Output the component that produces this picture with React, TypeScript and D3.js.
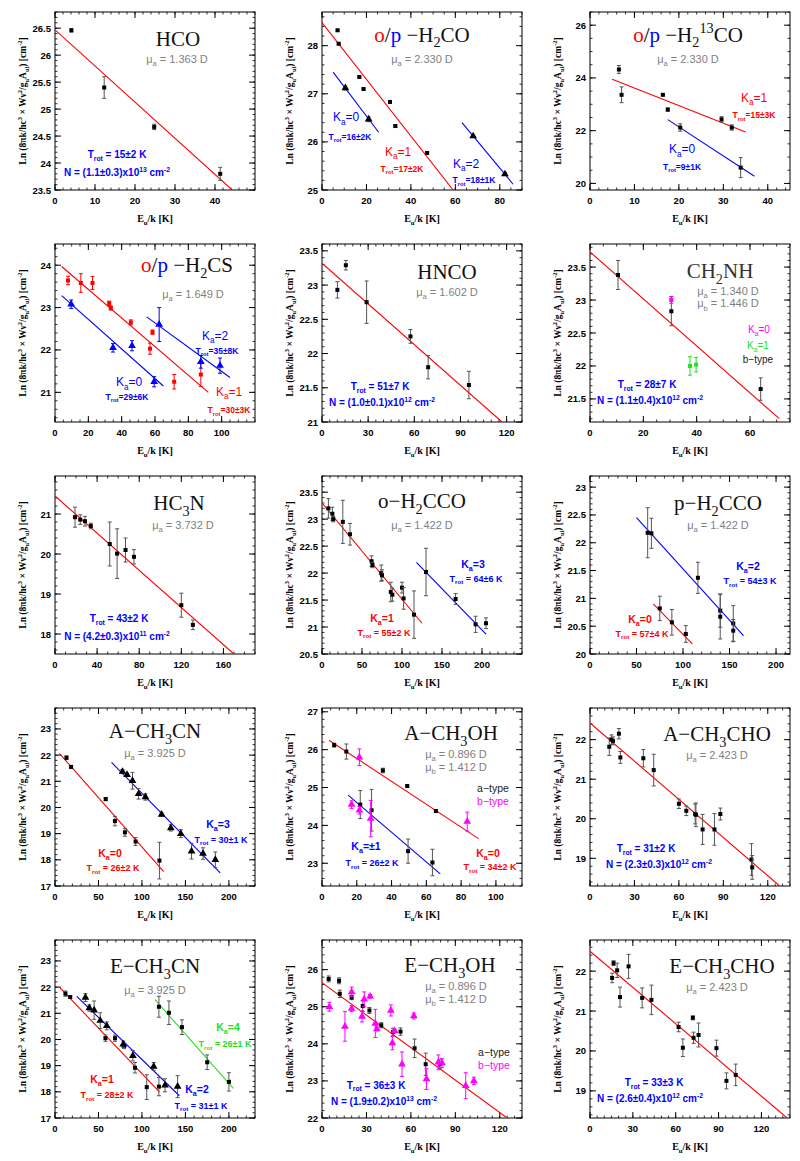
import React from 'react';
import * as d3 from 'd3';

type Pt = [number, number, number];
type Seg = [string, string];

const R = '#ff0000', B = '#0000ff', G = '#22e022', M = '#ff00ff', K = '#000000', GR = '#808080', EB = '#555555';

// ---------- data ----------
// HCO
const hcoPts: Pt[] = [[4.1, 26.46, 0.03], [12.3, 25.40, 0.2], [24.8, 24.67, 0.05], [41.3, 23.80, 0.12]];
const hcoFit = [[0, 26.47], [44.3, 23.5]];
const hcoX = [0, 10, 20, 30, 40];
const hcoY = [23.5, 24, 24.5, 25, 25.5, 26, 26.5];
// H2CO
const h2coO: Pt[] = [[7.0, 28.32, 0.02], [7.5, 28.04, 0.02], [16.8, 27.35, 0.02], [18.7, 27.10, 0.02], [30.6, 26.83, 0.02], [33.0, 26.33, 0.02], [47.3, 25.77, 0.02]];
const h2coP0: Pt[] = [[10.5, 27.12, 0.04], [21.0, 26.47, 0.05]];
const h2coP2: Pt[] = [[68.0, 26.12, 0.03], [82.3, 25.33, 0.03]];
const h2coFitO = [[0, 28.48], [59, 25]];
const h2coFitP0 = [[5, 27.45], [25.5, 26.2]];
const h2coFitP2 = [[63, 26.4], [86, 25.12]];
const h2coX = [0, 20, 40, 60, 80];
const h2coY = [25, 26, 27, 28];
// H2 13CO
const h213coPts: Pt[] = [[6.5, 24.32, 0.15], [7.1, 23.36, 0.3], [16.4, 23.36, 0.03], [17.5, 22.80, 0.06], [20.3, 22.12, 0.14], [29.6, 22.43, 0.1], [31.9, 22.12, 0.1], [33.9, 20.6, 0.38]];
const h213coFit1 = [[5, 23.95], [35, 21.95]];
const h213coFit0 = [[17.5, 22.42], [37, 20.27]];
const h213coX = [0, 10, 20, 30, 40];
const h213coY = [20, 22, 24, 26];
// H2CS
const h2csO: Pt[] = [[7.8, 23.64, 0.1], [15.5, 23.58, 0.22], [22.5, 23.58, 0.15], [32.5, 23.1, 0.05], [33.5, 22.99, 0.05], [45.5, 22.65, 0.06], [58.5, 22.42, 0.05], [57, 22.03, 0.13], [71.5, 21.25, 0.17], [87.5, 21.42, 0.28]];
const h2csP0: Pt[] = [[9.7, 23.08, 0.1], [34.8, 22.05, 0.1], [46.2, 22.1, 0.12], [59.5, 21.25, 0.12]];
const h2csP2: Pt[] = [[62.5, 22.6, 0.4], [87.5, 21.72, 0.15], [99, 21.63, 0.18]];
const h2csFitO = [[4, 23.97], [92, 21.0]];
const h2csFitP0 = [[4, 23.28], [65, 21.15]];
const h2csFitP2 = [[55, 22.78], [105, 21.35]];
const h2csX = [0, 20, 40, 60, 80, 100];
const h2csY = [21, 22, 23, 24];
// HNCO
const hncoPts: Pt[] = [[10, 22.93, 0.12], [15.5, 23.29, 0.07], [29, 22.75, 0.31], [57.5, 22.25, 0.1], [69, 21.8, 0.17], [95.5, 21.54, 0.2]];
const hncoFit = [[0, 23.32], [117, 21.0]];
const hncoX = [0, 30, 60, 90, 120];
const hncoY = [21, 21.5, 22, 22.5, 23, 23.5];
// CH2NH
const ch2nhA: Pt[] = [[10.5, 23.38, 0.22], [30.5, 22.83, 0.22], [64, 21.65, 0.17]];
const ch2nhK0: Pt[] = [[30.5, 23.0, 0.05]];
const ch2nhK1: Pt[] = [[37.5, 22.0, 0.14], [39.8, 22.02, 0.11]];
const ch2nhFit = [[0, 23.73], [71, 21.2]];
const ch2nhX = [0, 20, 40, 60];
const ch2nhY = [21.5, 22, 22.5, 23, 23.5];
// HC3N
const hc3nPts: Pt[] = [[19, 20.92, 0.25], [24, 20.86, 0.12], [28.5, 20.82, 0.12], [34, 20.7, 0.07], [52, 20.25, 0.55], [59, 20.01, 0.62], [67, 20.1, 0.3], [75, 19.93, 0.18], [120, 18.72, 0.3], [131, 18.23, 0.12]];
const hc3nFit = [[0, 21.45], [170, 17.5]];
const hc3nX = [0, 40, 80, 120, 160];
const hc3nY = [18, 19, 20, 21];
// o-H2CCO
const oh2ccoK1: Pt[] = [[8, 23.2, 0.18], [13, 23.1, 0.12], [14, 23.0, 0.05], [26, 22.95, 0.4], [35, 22.72, 0.2], [62, 22.22, 0.1], [63, 22.15, 0.05], [74, 22.0, 0.15], [75, 21.96, 0.1], [86, 21.65, 0.18], [88, 21.6, 0.12], [100, 21.73, 0.1], [102, 21.53, 0.2], [115, 21.23, 0.44]];
const oh2ccoK3: Pt[] = [[130, 22.02, 0.44], [167, 21.52, 0.1], [192, 21.05, 0.15], [205, 21.07, 0.1]];
const oh2ccoFit1 = [[0, 23.3], [125, 21.07]];
const oh2ccoFit3 = [[118, 22.2], [205, 20.87]];
const oh2ccoX = [0, 50, 100, 150, 200];
const oh2ccoY = [20.5, 21, 21.5, 22, 22.5, 23, 23.5];
// p-H2CCO
const ph2ccoK2: Pt[] = [[62, 22.18, 0.45], [66, 22.17, 0.27], [116, 21.37, 0.28], [140, 20.78, 0.3], [140, 20.67, 0.4], [154, 20.55, 0.32], [154, 20.42, 0.2]];
const ph2ccoK0: Pt[] = [[75, 20.82, 0.22], [88, 20.57, 0.23], [103, 20.36, 0.15]];
const ph2ccoFit2 = [[50, 22.45], [165, 20.33]];
const ph2ccoFit0 = [[68, 20.9], [110, 20.18]];
const ph2ccoX = [0, 50, 100, 150, 200];
const ph2ccoY = [20, 20.5, 21, 21.5, 22, 22.5, 23];
// A-CH3CN
const ach3cnK0: Pt[] = [[13.2, 21.9, 0.07], [18.5, 21.55, 0.05], [58.3, 20.32, 0.06], [68.9, 19.48, 0.18], [80.4, 19.05, 0.15], [92.7, 18.7, 0.15], [120.1, 17.97, 0.7]];
const ach3cnK3: Pt[] = [[77.6, 21.37, 0.08], [82.9, 21.25, 0.05], [89.1, 21.02, 0.32], [96.1, 20.52, 0.2], [104, 20.4, 0.12], [122.6, 19.73, 0.06], [133.2, 19.22, 0.12], [144.7, 19.0, 0.15], [157, 18.33, 0.3], [170.2, 18.24, 0.22], [184.4, 18.0, 0.3]];
const ach3cnFit0 = [[5, 22.07], [125, 17.55]];
const ach3cnFit3 = [[65, 21.72], [190, 17.5]];
const ch3cnX = [0, 50, 100, 150, 200];
const ch3cnY = [17, 18, 19, 20, 21, 22, 23];
// A-CH3OH
const ach3ohK0: Pt[] = [[7, 26.12, 0.05], [14, 25.95, 0.2], [35, 25.45, 0.06], [49, 25.04, 0.03], [65.5, 24.38, 0.04]];
const ach3ohK1: Pt[] = [[22, 24.55, 0.37], [28.5, 24.4, 0.55], [49.5, 23.32, 0.32], [63.5, 23.02, 0.35]];
const ach3ohB: Pt[] = [[21.5, 25.8, 0.22], [17, 24.55, 0.1], [21.5, 24.4, 0.1], [28, 24.18, 0.48], [83.5, 24.1, 0.25]];
const ach3ohFit0 = [[4, 26.25], [90, 23.65]];
const ach3ohFit1 = [[15, 24.8], [68, 22.72]];
const ach3ohX = [0, 20, 40, 60, 80, 100];
const ach3ohY = [23, 24, 25, 26, 27];
// A-CH3CHO
const ach3choPts: Pt[] = [[13, 21.82, 0.22], [14.5, 22.0, 0.12], [15.5, 21.97, 0.1], [19.5, 22.15, 0.13], [20.5, 21.55, 0.15], [36, 21.53, 0.22], [43, 21.23, 0.4], [60, 20.38, 0.12], [65, 20.2, 0.12], [71, 20.12, 0.25], [71.5, 20.1, 0.3], [76, 19.73, 0.38], [84, 19.73, 0.4], [88, 20.12, 0.15], [109, 18.97, 0.4], [109.5, 18.77, 0.3]];
const ach3choFit = [[0, 22.42], [128, 18.3]];
const ch3choX = [0, 30, 60, 90, 120];
const ch3choY = [19, 20, 21, 22];
// E-CH3CN
const ech3cnK1: Pt[] = [[12, 21.75, 0.1], [17.5, 21.62, 0.05], [58, 20.05, 0.12], [69, 20.05, 0.12], [79.5, 19.75, 0.1], [92, 18.92, 0.2], [105.5, 18.18, 0.47], [119.5, 18.2, 0.35]];
const ech3cnK2: Pt[] = [[35, 21.6, 0.15], [39.5, 21.2, 0.12], [45, 21.12, 0.35], [52, 20.72, 0.3], [59.5, 20.52, 0.15], [78.5, 19.82, 0.12], [89.5, 19.38, 0.2], [113.5, 18.97, 0.15], [126.5, 18.25, 0.25], [141, 18.2, 0.42]];
const ech3cnK4: Pt[] = [[119.5, 21.25, 0.4], [131, 21.02, 0.45], [146, 20.47, 0.28], [175, 19.13, 0.28], [200, 18.38, 0.35]];
const ech3cnFit1 = [[5, 22.0], [120, 18.0]];
const ech3cnFit2 = [[25, 21.65], [143, 17.85]];
const ech3cnFit4 = [[115, 21.52], [205, 18.13]];
// E-CH3OH
const ech3ohA: Pt[] = [[4.5, 25.75, 0.08], [11.5, 25.7, 0.08], [12, 25.35, 0.1], [20, 25.25, 0.06], [27.5, 25.02, 0.15], [32, 24.9, 0.08], [40, 24.5, 0.07], [48, 24.32, 0.1], [53, 24.33, 0.1], [62.5, 23.88, 0.25], [70, 23.45, 0.3], [79.5, 23.45, 0.12]];
const ech3ohB: Pt[] = [[5, 25.0, 0.12], [15.5, 24.47, 0.4], [20, 25.4, 0.13], [20, 24.95, 0.08], [27, 24.74, 0.15], [28.5, 25.2, 0.2], [32.5, 25.28, 0.05], [36, 24.55, 0.38], [37, 24.4, 0.05], [46.5, 24.9, 0.15], [47.5, 24.02, 0.18], [49, 24.35, 0.05], [54, 23.45, 0.33], [62, 24.75, 0.08], [70.5, 23.05, 0.28], [78.5, 23.5, 0.2], [81, 23.48, 0.12], [97, 22.87, 0.35], [102.5, 23.0, 0.1]];
const ech3ohFit = [[0, 25.65], [125, 22.0]];
const ech3ohX = [0, 30, 60, 90, 120];
const ech3ohY = [22, 23, 24, 25, 26];
// E-CH3CHO
const ech3choPts: Pt[] = [[15.5, 21.83, 0.12], [16.5, 22.2, 0.06], [19, 22.02, 0.18], [21, 21.35, 0.25], [27, 22.12, 0.3], [36.5, 21.33, 0.25], [43, 21.28, 0.37], [62, 20.6, 0.12], [65, 20.08, 0.22], [72, 20.83, 0.05], [72.5, 20.33, 0.14], [76, 20.4, 0.3], [88.5, 20.07, 0.2], [95.5, 19.25, 0.2], [102, 19.4, 0.27]];
const ech3choFit = [[0, 22.5], [138, 18.32]];

// ---------- panel table ----------
type Note = { fx: number; fy: number; parts: Seg[]; size: number; bold?: boolean; serif?: boolean };
const title = (fx: number, fy: number, parts: Seg[]): Note => ({ fx, fy, parts, size: 21, serif: true });
const txt = (fx: number, fy: number, s: string, c: string, size = 9.5, bold = true): Note => ({ fx, fy, parts: [[s, c]], size, bold });

const panels: any[] = [
  { xd: [0, 50], yd: [23.5, 26.8], xt: hcoX, xm: 2, yt: hcoY, ym: 0.1,
    series: [{ pts: hcoPts, m: 'sq', c: K, e: EB }], fits: [{ d: hcoFit, c: R }],
    notes: [title(0.615, 0.15, [['HCO', '#111']]), txt(0.61, 0.265, 'μ_{a} = 1.363 D', GR, 11, false),
      txt(0.31, 0.80, 'T_{rot} = 15±2 K', B, 10), txt(0.31, 0.90, 'N = (1.1±0.3)x10^{13} cm^{-2}', B, 10)] },
  { xd: [0, 90], yd: [25, 28.7], xt: h2coX, xm: 5, yt: h2coY, ym: 0.2,
    series: [{ pts: h2coO, m: 'sq', c: K, e: EB }, { pts: h2coP0, m: 'tri', c: K, e: EB }, { pts: h2coP2, m: 'tri', c: K, e: EB }],
    fits: [{ d: h2coFitO, c: R }, { d: h2coFitP0, c: B }, { d: h2coFitP2, c: B }],
    notes: [title(0.50, 0.125, [['o', R], ['/', K], ['p', B], [' −H_{2}CO', '#111']]), txt(0.50, 0.265, 'μ_{a} = 2.330 D', GR, 11, false),
      txt(0.12, 0.59, 'K_{a}=0', B, 12, false), txt(0.14, 0.70, 'T_{rot}=16±2K', B, 8.5),
      txt(0.38, 0.785, 'K_{a}=1', R, 12, false), txt(0.40, 0.88, 'T_{rot}=17±2K', R, 8.5),
      txt(0.72, 0.85, 'K_{a}=2', B, 12, false), txt(0.76, 0.945, 'T_{rot}=18±1K', B, 8.5)] },
  { xd: [0, 45], yd: [19.75, 26.5], xt: h213coX, xm: 2, yt: h213coY, ym: 0.5,
    series: [{ pts: h213coPts, m: 'sq', c: K, e: EB }],
    fits: [{ d: h213coFit1, c: R }, { d: h213coFit0, c: B }],
    notes: [title(0.49, 0.125, [['o', R], ['/', K], ['p', B], [' −H_{2}^{13}CO', '#111']]), txt(0.49, 0.265, 'μ_{a} = 2.330 D', GR, 11, false),
      txt(0.82, 0.48, 'K_{a}=1', R, 12, false), txt(0.82, 0.58, 'T_{rot}=15±3K', R, 8.5),
      txt(0.46, 0.77, 'K_{a}=0', B, 12, false), txt(0.46, 0.87, 'T_{rot}=9±1K', B, 8.5)] },
  { xd: [0, 120], yd: [20.3, 24.5], xt: h2csX, xm: 5, yt: h2csY, ym: 0.2,
    series: [{ pts: h2csO, m: 'sq', c: R, e: R }, { pts: h2csP0, m: 'tri', c: B, e: B }, { pts: h2csP2, m: 'tri', c: B, e: B }],
    fits: [{ d: h2csFitO, c: R }, { d: h2csFitP0, c: B }, { d: h2csFitP2, c: B }],
    notes: [title(0.66, 0.115, [['o', R], ['/', K], ['p', B], [' −H_{2}CS', '#111']]), txt(0.69, 0.28, 'μ_{a} = 1.649 D', GR, 11, false),
      txt(0.80, 0.515, 'K_{a}=2', B, 12, false), txt(0.81, 0.60, 'T_{rot}=35±8K', B, 8.5),
      txt(0.37, 0.775, 'K_{a}=0', B, 12, false), txt(0.36, 0.86, 'T_{rot}=29±6K', B, 8.5),
      txt(0.87, 0.83, 'K_{a}=1', R, 12, false), txt(0.87, 0.935, 'T_{rot}=30±3K', R, 8.5)] },
  { xd: [0, 130], yd: [21, 23.6], xt: hncoX, xm: 5, yt: hncoY, ym: 0.1,
    series: [{ pts: hncoPts, m: 'sq', c: K, e: EB }], fits: [{ d: hncoFit, c: R }],
    notes: [title(0.625, 0.155, [['HNCO', '#111']]), txt(0.625, 0.27, 'μ_{a} = 1.602 D', GR, 11, false),
      txt(0.29, 0.80, 'T_{rot} = 51±7 K', B, 10), txt(0.30, 0.89, 'N = (1.0±0.1)x10^{12} cm^{-2}', B, 10)] },
  { xd: [0, 75], yd: [21.15, 23.85], xt: ch2nhX, xm: 5, yt: ch2nhY, ym: 0.1,
    series: [{ pts: ch2nhA, m: 'sq', c: K, e: EB }, { pts: ch2nhK0, m: 'sq', c: M, e: M }, { pts: ch2nhK1, m: 'sq', c: G, e: G }],
    fits: [{ d: ch2nhFit, c: R }],
    notes: [title(0.65, 0.15, [['CH_{2}NH', '#333']]), txt(0.69, 0.265, 'μ_{a} = 1.340 D', GR, 11, false), txt(0.69, 0.335, 'μ_{b} = 1.446 D', GR, 11, false),
      txt(0.845, 0.48, 'K_{a}=0', M, 10, false), txt(0.84, 0.57, 'K_{a}=1', G, 10, false), txt(0.84, 0.65, 'b−type', '#222', 10, false),
      txt(0.285, 0.79, 'T_{rot} = 28±7 K', B, 10), txt(0.30, 0.88, 'N = (1.1±0.4)x10^{12} cm^{-2}', B, 10)] },
  { xd: [0, 190], yd: [17.5, 21.95], xt: hc3nX, xm: 10, yt: hc3nY, ym: 0.2,
    series: [{ pts: hc3nPts, m: 'sq', c: K, e: EB }], fits: [{ d: hc3nFit, c: R }],
    notes: [title(0.62, 0.15, [['HC_{3}N', '#111']]), txt(0.64, 0.275, 'μ_{a} = 3.732 D', GR, 11, false),
      txt(0.32, 0.80, 'T_{rot} = 43±2 K', B, 10), txt(0.31, 0.90, 'N = (4.2±0.3)x10^{11} cm^{-2}', B, 10)] },
  { xd: [0, 250], yd: [20.5, 23.8], xt: oh2ccoX, xm: 10, yt: oh2ccoY, ym: 0.1,
    series: [{ pts: oh2ccoK1, m: 'sq', c: K, e: EB }, { pts: oh2ccoK3, m: 'sq', c: K, e: EB }],
    fits: [{ d: oh2ccoFit1, c: R }, { d: oh2ccoFit3, c: B }],
    notes: [title(0.50, 0.14, [['o−H_{2}CCO', '#111']]), txt(0.50, 0.275, 'μ_{a} = 1.422 D', GR, 11, false),
      txt(0.755, 0.495, 'K_{a}=3', B, 10.5), txt(0.77, 0.575, 'T_{rot} = 64±6 K', B, 9),
      txt(0.30, 0.80, 'K_{a}=1', R, 10.5), txt(0.31, 0.88, 'T_{rot} = 55±2 K', R, 9)] },
  { xd: [0, 215], yd: [20, 23.2], xt: ph2ccoX, xm: 10, yt: ph2ccoY, ym: 0.1,
    series: [{ pts: ph2ccoK2, m: 'sq', c: K, e: EB }, { pts: ph2ccoK0, m: 'sq', c: K, e: EB }],
    fits: [{ d: ph2ccoFit2, c: B }, { d: ph2ccoFit0, c: R }],
    notes: [title(0.64, 0.15, [['p−H_{2}CCO', '#111']]), txt(0.64, 0.275, 'μ_{a} = 1.422 D', GR, 11, false),
      txt(0.79, 0.505, 'K_{a}=2', B, 10.5), txt(0.80, 0.59, 'T_{rot} = 54±3 K', B, 9),
      txt(0.25, 0.805, 'K_{a}=0', R, 10.5), txt(0.26, 0.885, 'T_{rot} = 57±4 K', R, 9)] },
  { xd: [0, 230], yd: [17, 23.8], xt: ch3cnX, xm: 10, yt: ch3cnY, ym: 0.2,
    series: [{ pts: ach3cnK0, m: 'sq', c: K, e: EB }, { pts: ach3cnK3, m: 'tri', c: K, e: EB }],
    fits: [{ d: ach3cnFit0, c: R }, { d: ach3cnFit3, c: B }],
    notes: [title(0.50, 0.13, [['A−CH_{3}CN', '#111']]), txt(0.50, 0.255, 'μ_{a} = 3.925 D', GR, 11, false),
      txt(0.815, 0.655, 'K_{a}=3', B, 10.5), txt(0.83, 0.74, 'T_{rot} = 30±1 K', B, 9),
      txt(0.275, 0.815, 'K_{a}=0', R, 10.5), txt(0.29, 0.90, 'T_{rot} = 26±2 K', R, 9)] },
  { xd: [0, 115], yd: [22.4, 27.1], xt: ach3ohX, xm: 5, yt: ach3ohY, ym: 0.2,
    series: [{ pts: ach3ohK0, m: 'sq', c: K, e: EB }, { pts: ach3ohK1, m: 'sq', c: K, e: EB }, { pts: ach3ohB, m: 'tri', c: M, e: M }],
    fits: [{ d: ach3ohFit0, c: R }, { d: ach3ohFit1, c: B }],
    notes: [title(0.645, 0.14, [['A−CH_{3}OH', '#111']]), txt(0.67, 0.26, 'μ_{a} = 0.896 D', GR, 11, false), txt(0.67, 0.33, 'μ_{b} = 1.412 D', GR, 11, false),
      txt(0.855, 0.45, 'a−type', '#222', 10.5, false), txt(0.855, 0.525, 'b−type', M, 10.5, false),
      txt(0.22, 0.775, 'K_{a}=±1', B, 10.5), txt(0.25, 0.87, 'T_{rot} = 26±2 K', B, 9),
      txt(0.83, 0.815, 'K_{a}=0', R, 10.5), txt(0.84, 0.895, 'T_{rot} = 34±2 K', R, 9)] },
  { xd: [0, 135], yd: [18.3, 22.8], xt: ch3choX, xm: 5, yt: ch3choY, ym: 0.2,
    series: [{ pts: ach3choPts, m: 'sq', c: K, e: EB }], fits: [{ d: ach3choFit, c: R }],
    notes: [title(0.635, 0.145, [['A−CH_{3}CHO', '#111']]), txt(0.635, 0.265, 'μ_{a} = 2.423 D', GR, 11, false),
      txt(0.28, 0.79, 'T_{rot} = 31±2 K', B, 10), txt(0.345, 0.88, 'N = (2.3±0.3)x10^{12} cm^{-2}', B, 10)] },
  { xd: [0, 230], yd: [17, 23.8], xt: ch3cnX, xm: 10, yt: ch3cnY, ym: 0.2,
    series: [{ pts: ech3cnK1, m: 'sq', c: K, e: EB }, { pts: ech3cnK2, m: 'tri', c: K, e: EB }, { pts: ech3cnK4, m: 'sq', c: K, e: EB }],
    fits: [{ d: ech3cnFit1, c: R }, { d: ech3cnFit2, c: B }, { d: ech3cnFit4, c: G }],
    notes: [title(0.50, 0.145, [['E−CH_{3}CN', '#111']]), txt(0.50, 0.28, 'μ_{a} = 3.925 D', GR, 11, false),
      txt(0.235, 0.785, 'K_{a}=1', R, 10.5), txt(0.26, 0.87, 'T_{rot} = 28±2 K', R, 9),
      txt(0.71, 0.84, 'K_{a}=2', B, 10.5), txt(0.73, 0.93, 'T_{rot} = 31±1 K', B, 9),
      txt(0.865, 0.49, 'K_{a}=4', G, 10.5), txt(0.85, 0.585, 'T_{rot} = 26±1 K', G, 9)] },
  { xd: [0, 135], yd: [22, 26.8], xt: ech3ohX, xm: 5, yt: ech3ohY, ym: 0.2,
    series: [{ pts: ech3ohA, m: 'sq', c: K, e: EB }, { pts: ech3ohB, m: 'tri', c: M, e: M }], fits: [{ d: ech3ohFit, c: R }],
    notes: [title(0.64, 0.14, [['E−CH_{3}OH', '#111']]), txt(0.67, 0.26, 'μ_{a} = 0.896 D', GR, 11, false), txt(0.67, 0.33, 'μ_{b} = 1.412 D', GR, 11, false),
      txt(0.86, 0.63, 'a−type', '#222', 10.5, false), txt(0.86, 0.705, 'b−type', M, 10.5, false),
      txt(0.27, 0.815, 'T_{rot} = 36±3 K', B, 10), txt(0.31, 0.905, 'N = (1.9±0.2)x10^{13} cm^{-2}', B, 10)] },
  { xd: [0, 140], yd: [18.32, 22.78], xt: ch3choX, xm: 5, yt: ch3choY, ym: 0.2,
    series: [{ pts: ech3choPts, m: 'sq', c: K, e: EB }], fits: [{ d: ech3choFit, c: R }],
    notes: [title(0.66, 0.145, [['E−CH_{3}CHO', '#111']]), txt(0.635, 0.265, 'μ_{a} = 2.423 D', GR, 11, false),
      txt(0.32, 0.80, 'T_{rot} = 33±3 K', B, 10), txt(0.30, 0.89, 'N = (2.6±0.4)x10^{12} cm^{-2}', B, 10)] },
];

// ---------- rendering ----------
const COLS = [55, 322, 590];
const ROWS = [12, 244, 476, 708, 940];
const W = 200, H = 178;

function parseRich(s: string) {
  const out: { t: string; m: number }[] = [];
  let i = 0, buf = '';
  while (i < s.length) {
    const ch = s[i];
    if ((ch === '_' || ch === '^') && s[i + 1] === '{') {
      if (buf) { out.push({ t: buf, m: 0 }); buf = ''; }
      const j = s.indexOf('}', i + 2);
      out.push({ t: s.slice(i + 2, j), m: ch === '_' ? 1 : -1 });
      i = j + 1;
    } else { buf += ch; i++; }
  }
  if (buf) out.push({ t: buf, m: 0 });
  return out;
}

function Rich(props: { x: number; y: number; parts: Seg[]; size: number; anchor?: string; weight?: string; family: string; transform?: string }) {
  const { x, y, parts, size, anchor = 'middle', weight = 'normal', family, transform } = props;
  let cur = 0;
  const spans: any[] = [];
  parts.forEach(([str, color], pi) => {
    parseRich(str).forEach((seg, si) => {
      const target = seg.m === 1 ? size * 0.28 : seg.m === -1 ? -size * 0.4 : 0;
      const dy = target - cur;
      cur = target;
      spans.push(<tspan key={pi + '-' + si} dy={dy} fill={color} fontSize={seg.m ? size * 0.68 : size}>{seg.t}</tspan>);
    });
  });
  return (
    <text x={x} y={y} textAnchor={anchor} fontFamily={family} fontWeight={weight} fontSize={size} transform={transform} style={{ whiteSpace: 'pre' }}>
      {spans}
    </text>
  );
}

const SANS = '"Liberation Sans", Arial, sans-serif';
const SERIF = '"Liberation Serif", "Times New Roman", serif';

function minorTicks(d: number[], step: number) {
  const s = Math.ceil(d[0] / step - 1e-9) * step;
  return d3.range(s, d[1] + 1e-9, step);
}

function Panel({ p, left, top, idx }: { p: any; left: number; top: number; idx: number }) {
  const x = d3.scaleLinear().domain(p.xd).range([left, left + W]);
  const y = d3.scaleLinear().domain(p.yd).range([top + H, top]);
  const clipId = 'clip' + idx;
  const fmt = (v: number) => String(Math.round(v * 100) / 100);
  const xMin = minorTicks(p.xd, p.xm);
  const yMin = minorTicks(p.yd, p.ym);
  const line = d3.line<number[]>().x(d => x(d[0])).y(d => y(d[1]));
  const tri = d3.symbol().type(d3.symbolTriangle).size(26)();
  return (
    <g>
      <defs>
        <clipPath id={clipId}><rect x={left} y={top} width={W} height={H} /></clipPath>
      </defs>
      <rect x={left} y={top} width={W} height={H} fill="none" stroke="#000" strokeWidth={1} />
      {xMin.map((v, i) => (
        <g key={'xm' + i} stroke="#000" strokeWidth={0.8}>
          <line x1={x(v)} x2={x(v)} y1={top + H} y2={top + H - 2.5} />
          <line x1={x(v)} x2={x(v)} y1={top} y2={top + 2.5} />
        </g>
      ))}
      {p.xt.map((v: number, i: number) => (
        <g key={'xt' + i}>
          <line x1={x(v)} x2={x(v)} y1={top + H} y2={top + H - 6} stroke="#000" />
          <line x1={x(v)} x2={x(v)} y1={top} y2={top + 6} stroke="#000" />
          <text x={x(v)} y={top + H + 14} textAnchor="middle" fontFamily={SANS} fontWeight="bold" fontSize={9.5}>{fmt(v)}</text>
        </g>
      ))}
      {yMin.map((v, i) => (
        <g key={'ym' + i} stroke="#000" strokeWidth={0.8}>
          <line x1={left} x2={left + 2.5} y1={y(v)} y2={y(v)} />
          <line x1={left + W} x2={left + W - 2.5} y1={y(v)} y2={y(v)} />
        </g>
      ))}
      {p.yt.map((v: number, i: number) => (
        <g key={'yt' + i}>
          <line x1={left} x2={left + 6} y1={y(v)} y2={y(v)} stroke="#000" />
          <line x1={left + W} x2={left + W - 6} y1={y(v)} y2={y(v)} stroke="#000" />
          <text x={left - 4} y={y(v) + 3.5} textAnchor="end" fontFamily={SANS} fontWeight="bold" fontSize={9.5}>{fmt(v)}</text>
        </g>
      ))}
      <Rich x={left + W / 2} y={top + H + 32} parts={[['E_{u}/k [K]', '#000']]} size={10} weight="bold" family={SERIF} />
      <Rich x={left - 29} y={top + H / 2} transform={`rotate(-90 ${left - 29} ${top + H / 2})`}
        parts={[['Ln (8πk/hc^{3} × Wν^{2}/g_{u}A_{ul}) [cm^{-2}]', '#000']]} size={9.5} weight="bold" family={SERIF} />
      <g clipPath={`url(#${clipId})`}>
        {p.fits.map((f: any, i: number) => (
          <path key={'f' + i} d={line(f.d) || ''} fill="none" stroke={f.c} strokeWidth={1.1} />
        ))}
        {p.series.map((s: any, si: number) => (
          <g key={'s' + si}>
            {s.pts.map((pt: Pt, i: number) => {
              const cx = x(pt[0]), cy = y(pt[1]);
              const y1 = y(pt[1] - pt[2]), y2 = y(pt[1] + pt[2]);
              return (
                <g key={i}>
                  <line x1={cx} x2={cx} y1={y1} y2={y2} stroke={s.e} strokeWidth={1} />
                  <line x1={cx - 2} x2={cx + 2} y1={y1} y2={y1} stroke={s.e} strokeWidth={1} />
                  <line x1={cx - 2} x2={cx + 2} y1={y2} y2={y2} stroke={s.e} strokeWidth={1} />
                  {s.m === 'sq'
                    ? <rect x={cx - 2} y={cy - 2} width={4} height={4} fill={s.c} />
                    : <path d={tri || ''} transform={`translate(${cx},${cy})`} fill={s.c} />}
                </g>
              );
            })}
          </g>
        ))}
      </g>
      {p.notes.map((n: Note, i: number) => (
        <Rich key={'n' + i} x={left + n.fx * W} y={top + n.fy * H + n.size * 0.35} parts={n.parts} size={n.size}
          weight={n.bold ? 'bold' : 'normal'} family={n.serif ? SERIF : SANS} />
      ))}
    </g>
  );
}

export default function App() {
  return (
    <svg width={800} height={1161} viewBox="0 0 800 1161" style={{ position: 'absolute', left: 0, top: 0, background: '#fff' }}>
      <rect x={0} y={0} width={800} height={1161} fill="#fff" />
      {panels.map((p, i) => (
        <Panel key={i} p={p} idx={i} left={COLS[i % 3]} top={ROWS[Math.floor(i / 3)]} />
      ))}
    </svg>
  );
}
